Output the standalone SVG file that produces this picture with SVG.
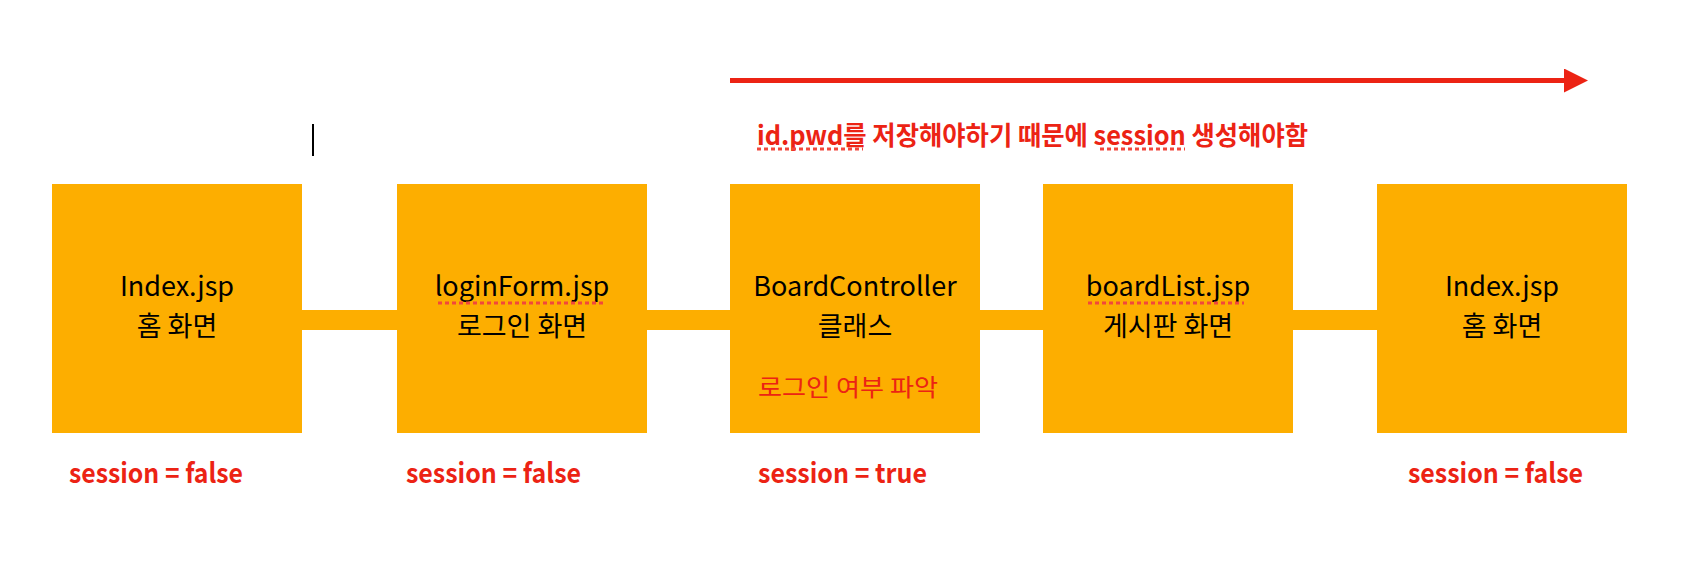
<svg xmlns="http://www.w3.org/2000/svg" width="1694" height="564" viewBox="0 0 1694 564">
<style>
.box{fill:#FDAE00}
.conn{stroke:#FDAE00;stroke-width:20}
.t{font-family:"Noto Sans CJK KR","Noto Sans",sans-serif;font-size:27px;fill:#000;text-anchor:middle}
.s{font-family:"Noto Sans CJK KR","Noto Sans",sans-serif;font-size:27px;font-weight:bold;fill:#EC2314}
.r{font-family:"Noto Sans CJK KR","Noto Sans",sans-serif;font-size:24px;fill:#EC2314}
.h{font-family:"Noto Sans CJK KR","Noto Sans",sans-serif;font-size:26px;font-weight:bold;fill:#EC2314}
.dot{stroke:#F2473C;stroke-width:3;stroke-dasharray:4 3}
</style>
<defs>
<marker id="ah" markerUnits="userSpaceOnUse" markerWidth="24" markerHeight="24" refX="0" refY="12" orient="auto">
<path d="M0,0 L24,12 L0,24 Z" fill="#EC2314"/>
</marker>
</defs>
<g id="connectors">
<line class="conn" x1="302" y1="320" x2="397" y2="320"/>
<line class="conn" x1="647" y1="320" x2="730" y2="320"/>
<line class="conn" x1="980" y1="320" x2="1043" y2="320"/>
<line class="conn" x1="1293" y1="320" x2="1377" y2="320"/>
</g>
<g id="flow-arrow">
<line x1="730" y1="80.5" x2="1564" y2="80.5" stroke="#EC2314" stroke-width="5" marker-end="url(#ah)"/>
</g>
<g id="cursor">
<line x1="313" y1="124" x2="313" y2="156" stroke="#000" stroke-width="2"/>
</g>
<g id="heading">
<text class="h" x="757" y="145" textLength="551" lengthAdjust="spacingAndGlyphs">id.pwd를 저장해야하기 때문에 session 생성해야함</text>
<line class="dot" x1="757" y1="149" x2="863" y2="149"/>
<line class="dot" x1="1100" y1="149" x2="1185" y2="149"/>
</g>
<g id="node-index1">
<rect class="box" x="52" y="184" width="250" height="249"/>
<text class="t" x="177" y="296">Index.jsp</text>
<text class="t" x="177" y="336">홈 화면</text>
</g>
<g id="node-loginForm">
<rect class="box" x="397" y="184" width="250" height="249"/>
<text class="t" x="522" y="296">loginForm.jsp</text>
<line class="dot" x1="438" y1="303" x2="604" y2="303"/>
<text class="t" x="522" y="336">로그인 화면</text>
</g>
<g id="node-boardController">
<rect class="box" x="730" y="184" width="250" height="249"/>
<text class="t" x="855" y="296">BoardController</text>
<text class="t" x="855" y="336">클래스</text>
<text class="r" x="758" y="396" textLength="180" lengthAdjust="spacingAndGlyphs">로그인 여부 파악</text>
</g>
<g id="node-boardList">
<rect class="box" x="1043" y="184" width="250" height="249"/>
<text class="t" x="1168" y="296">boardList.jsp</text>
<line class="dot" x1="1088" y1="303" x2="1244" y2="303"/>
<text class="t" x="1168" y="336">게시판 화면</text>
</g>
<g id="node-index2">
<rect class="box" x="1377" y="184" width="250" height="249"/>
<text class="t" x="1502" y="296">Index.jsp</text>
<text class="t" x="1502" y="336">홈 화면</text>
</g>
<g id="session-labels">
<text class="s" x="69" y="483" textLength="174" lengthAdjust="spacingAndGlyphs">session = false</text>
<text class="s" x="406" y="483" textLength="175" lengthAdjust="spacingAndGlyphs">session = false</text>
<text class="s" x="758" y="483" textLength="169" lengthAdjust="spacingAndGlyphs">session = true</text>
<text class="s" x="1408" y="483" textLength="175" lengthAdjust="spacingAndGlyphs">session = false</text>
</g>
</svg>
